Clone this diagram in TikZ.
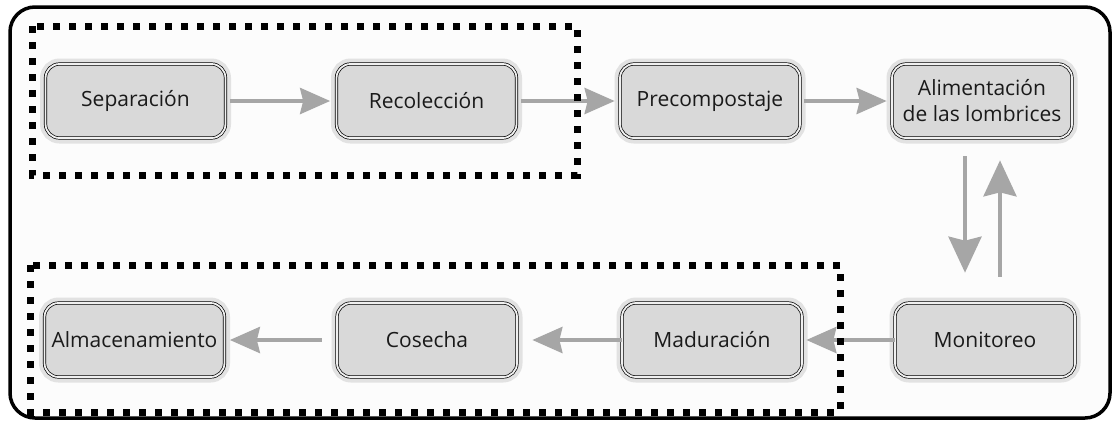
\documentclass[tikz,border=0pt]{standalone}
\usepackage{fontspec}
\setmainfont{Open Sans}
\usetikzlibrary{arrows.meta}
\definecolor{boxgray}{HTML}{D9D9D9}
\definecolor{halogray}{HTML}{E2E2E2}
\definecolor{arrgray}{HTML}{A6A6A6}
\definecolor{bggray}{HTML}{FCFCFC}
\definecolor{txt}{HTML}{1A1A1A}
\begin{document}
\begin{tikzpicture}[x=1pt,y=-1pt,
  proc/.style={draw=black, line width=0.7pt, double=white!60!boxgray, double distance=1.8pt,
    fill=boxgray, rounded corners=14pt, minimum width=180pt, minimum height=74pt,
    align=center, text=txt, font=\fontsize{21}{26}\selectfont, inner sep=2pt,
    preaction={draw=halogray, line width=11pt}},
  harr/.style={draw=arrgray, line width=4pt, -{Stealth[length=30pt, width=26pt, inset=3pt]}},
  varr/.style={draw=arrgray, line width=4pt, -{Stealth[length=36pt, width=33pt, inset=4pt]}},
  dotbox/.style={draw=black, line width=7pt, dash pattern=on 7pt off 9pt}]
\useasboundingbox (0,0) rectangle (1118,421);
\fill[white] (0,0) rectangle (1118,421);
\draw[line width=3.5pt, rounded corners=25pt, fill=bggray] (10,7) rectangle (1110,418);

\node[proc] (sep) at (135.5,101) {Separación};
\node[proc] (rec) at (426.5,101) {Recolección};
\node[proc] (pre) at (710,101) {Precompostaje};
\node[proc] (ali) at (982,101) {Alimentación\\de las lombrices};
\node[proc] (alm) at (134.5,340) {Almacenamiento};
\node[proc] (cos) at (427,340) {Cosecha};
\node[proc] (mad) at (712,340) {Maduración};
\node[proc] (mon) at (985,340) {Monitoreo};

\draw[harr, shorten <=4pt, shorten >=6pt] (sep) -- (rec);
\draw[harr, shorten <=4pt, shorten >=5pt] (rec) -- (pre);
\draw[harr, shorten <=4pt, shorten >=5pt] (pre) -- (ali);
\draw[varr, shorten <=18pt, shorten >=30pt] ([xshift=-17pt]ali.south) -- ([xshift=-20pt]mon.north);
\draw[varr, shorten <=26pt, shorten >=22pt] ([xshift=15pt]mon.north) -- ([xshift=18pt]ali.south);
\draw[harr, shorten <=0pt, shorten >=4pt] (mon) -- (mad);
\draw[harr, shorten <=0pt, shorten >=15pt] (mad) -- (cos);
\draw[harr, shorten <=15pt, shorten >=5pt] (cos) -- (alm);

\draw[dotbox] (32,26) rectangle (577,175);
\draw[dotbox] (30,265) rectangle (840,412);
\end{tikzpicture}
\end{document}
